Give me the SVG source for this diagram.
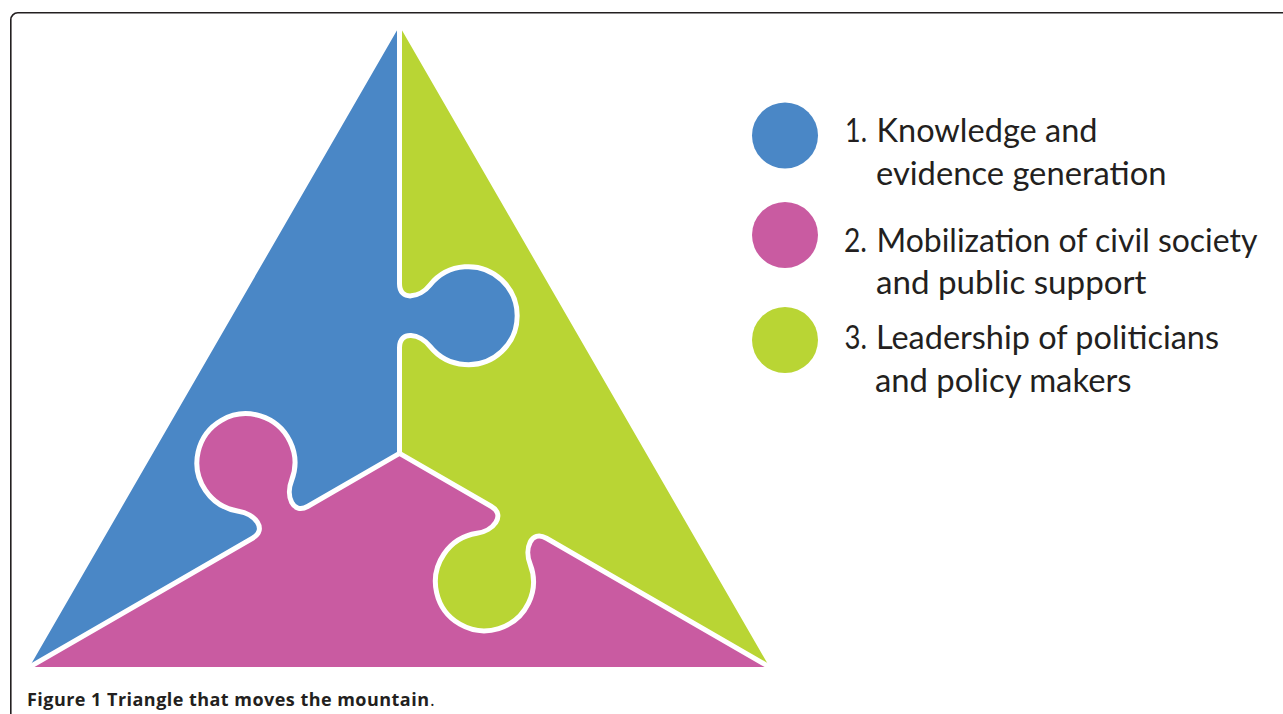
<svg xmlns="http://www.w3.org/2000/svg" xmlns:xlink="http://www.w3.org/1999/xlink" width="1283" height="714" viewBox="0 0 1283 714">
<style>
.frame{fill:none;stroke:#231f20;stroke-width:1.6}
.gap{fill:none;stroke:#ffffff;stroke-width:5;stroke-linejoin:round}
.blue{fill:#4a87c6}
.pink{fill:#c95ba1}
.green{fill:#b9d534}
.leg{font-family:Lato,"Open Sans","Liberation Sans",sans-serif;font-size:33px;fill:#231f20}
.cap{font-family:"Open Sans","Liberation Sans",sans-serif;font-size:18px;fill:#231f20}
</style>
<defs>
<path id="piece" d="M 399.5 26.1 L 399.5 283.7 C 399.5 301.7 420 297.7 430 285 A 49 49 0 1 1 430 346.4 C 420 333.7 399.5 329.7 399.5 347.7 L 399.5 453.4 L 307.96 506.25 C 292.38 515.25 285.59 495.5 291.59 480.49 A 49 49 0 1 0 238.42 511.19 C 254.41 513.5 268.13 529.25 252.54 538.25 L 29.45 667.05 Z"/>
<path id="seam" d="M 399.5 20 L 399.5 283.7 C 399.5 301.7 420 297.7 430 285 A 49 49 0 1 1 430 346.4 C 420 333.7 399.5 329.7 399.5 347.7 L 399.5 453.4"/>
</defs>
<rect class="frame" x="10.8" y="12.8" width="1320" height="760" rx="7"/>
<g id="blue-piece"><use xlink:href="#piece" class="blue"/></g>
<g id="green-piece"><use xlink:href="#piece" class="green" transform="rotate(120 399.5 453.4)"/></g>
<g id="pink-piece"><use xlink:href="#piece" class="pink" transform="rotate(240 399.5 453.4)"/></g>
<g id="seams">
<use xlink:href="#seam" class="gap"/>
<use xlink:href="#seam" class="gap" transform="rotate(120 399.5 453.4)"/>
<use xlink:href="#seam" class="gap" transform="rotate(240 399.5 453.4)"/>
</g>
<g id="legend-1">
<circle class="blue" cx="785" cy="135.5" r="33"/>
<text class="leg" x="845" y="141.7" textLength="22" lengthAdjust="spacingAndGlyphs">1.</text>
<text class="leg" x="876.5" y="141.7" textLength="221" lengthAdjust="spacingAndGlyphs">Knowledge and</text>
<text class="leg" x="876" y="185" textLength="290.5" lengthAdjust="spacingAndGlyphs">evidence generation</text>
</g>
<g id="legend-2">
<circle class="pink" cx="785" cy="235" r="33"/>
<text class="leg" x="844" y="251.7" textLength="23" lengthAdjust="spacingAndGlyphs">2.</text>
<text class="leg" x="876.5" y="251.7" textLength="381" lengthAdjust="spacingAndGlyphs">Mobilization of civil society</text>
<text class="leg" x="876" y="293.5" textLength="270.5" lengthAdjust="spacingAndGlyphs">and public support</text>
</g>
<g id="legend-3">
<circle class="green" cx="785" cy="340" r="33"/>
<text class="leg" x="844.5" y="349.3" textLength="22.5" lengthAdjust="spacingAndGlyphs">3.</text>
<text class="leg" x="876" y="349.3" textLength="343" lengthAdjust="spacingAndGlyphs">Leadership of politicians</text>
<text class="leg" x="875" y="391.7" textLength="256.5" lengthAdjust="spacingAndGlyphs">and policy makers</text>
</g>
<g id="caption">
<text class="cap" x="27" y="706" font-weight="bold" textLength="402">Figure 1 Triangle that moves the mountain</text>
<text class="cap" x="430" y="706">.</text>
</g>
</svg>
